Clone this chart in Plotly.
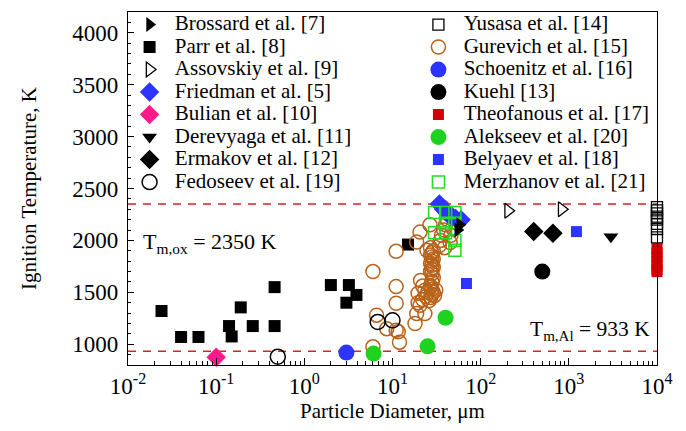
import plotly.graph_objects as go

# ---------------- data ----------------
brossard_d = [55, 58]
brossard_T = [2100, 2150]

parr_d = [0.024, 0.040, 0.063, 0.14, 0.15, 0.19, 0.26, 0.46, 0.46, 2.0, 3.2, 3.9, 3.0, 15]
parr_T = [1320, 1070, 1070, 1175, 1075, 1355, 1175, 1550, 1175, 1570, 1570, 1475, 1400, 1960]

assovskiy_d = [205, 830]
assovskiy_T = [2285, 2300]

friedman_d = [34, 38, 42, 47, 52, 60]
friedman_T = [2350, 2300, 2260, 2230, 2210, 2200]

bulian_d = [0.1]
bulian_T = [875]

derevyaga_d = [3000]
derevyaga_T = [2035]

ermakov_d = [400, 660]
ermakov_T = [2085, 2070]

fedoseev_d = [0.5, 6.8, 10]
fedoseev_T = [880, 1215, 1230]

yusasa_d = [1e4, 1e4, 1e4, 1e4, 1e4, 1e4, 1e4, 1e4]
yusasa_T = [2320, 2290, 2260, 2230, 2200, 2160, 2110, 2030]

gurevich_d = [6.0, 6.0, 6.6, 8.6, 11, 11, 11, 11, 12, 11.6, 18, 18.8, 19.5, 19.5,
              20.5, 23.3, 20.8, 23.3, 20.5, 18.8, 26.6, 24.6,
              27, 28, 29, 28, 27, 28, 29, 28, 27, 28, 29, 28, 27, 28, 29, 28, 27, 28, 29, 27,
              22, 24, 26, 25, 30, 27, 22, 31, 28,
              34, 35, 36, 38, 40, 42, 44, 37, 46, 45, 48, 39]
gurevich_T = [1700, 975, 1280, 1150, 1895, 1555, 1395, 1135, 1020, 1120, 1200, 1295, 1400, 1490,
              1375, 1295, 1615, 1520, 2080, 1985, 2150, 1905,
              1450, 1480, 1500, 1530, 1560, 1600, 1640, 1680, 1700, 1720, 1740, 1760, 1780, 1800,
              1820, 1840, 1860, 1880, 1900, 1930,
              1430, 1460, 1420, 1500, 1470, 1550, 1560, 1520, 1600,
              1950, 2000, 2050, 2100, 2150, 2200, 2250, 2320, 2050, 1980, 2120, 1930]

schoenitz_d = [3.0]
schoenitz_T = [920]

kuehl_d = [500]
kuehl_T = [1700]

theofanous_d = [1e4, 1e4, 1e4, 1e4, 1e4, 1e4, 1e4]
theofanous_T = [1920, 1880, 1840, 1800, 1760, 1720, 1700]

alekseev_d = [6.1, 25, 40]
alekseev_T = [910, 980, 1255]

belyaev_d = [69, 1220]
belyaev_T = [1585, 2085]

merzhanov_d = [30, 40, 51, 40, 51, 30, 40, 51, 51]
merzhanov_T = [2270, 2270, 2270, 2165, 2165, 2075, 2075, 2000, 1905]

T_ox = 2350
T_al = 933

x_tickvals = [1e-2, 1e-1, 1e0, 1e1, 1e2, 1e3, 1e4]
x_ticktext = ["10<sup>-2</sup>", "10<sup>-1</sup>", "10<sup>0</sup>", "10<sup>1</sup>",
              "10<sup>2</sup>", "10<sup>3</sup>", "10<sup>4</sup>"]

# ---------------- style ----------------
FONT = "Liberation Serif"
BLUE = "#2B35FF"
PINK = "#FF1A8C"
BROWN = "#B8621B"
GREEN = "#1ED21E"
RED = "#D40000"
LGREEN = "#22DD22"

def nm(s):
    return '<span style="font-size:21px">&nbsp;' + s + '</span>'

fig = go.Figure()

def add(d, T, name, legend, rank, symbol, size, color, line_color=None, line_width=0):
    fig.add_trace(go.Scatter(
        x=d, y=T, mode="markers", name=nm(name), legend=legend, legendrank=rank,
        cliponaxis=False,
        marker=dict(symbol=symbol, size=size, color=color,
                    line=dict(color=line_color if line_color else color, width=line_width)),
    ))

# drawing order (bottom to top)
add(parr_d, parr_T, "Parr et al. [8]", "legend", 2, "square", 12, "black")
add(bulian_d, bulian_T, "Bulian et al. [10]", "legend", 5, "diamond", 15, PINK)
add(gurevich_d, gurevich_T, "Gurevich et al. [15]", "legend2", 2, "circle-open", 14, BROWN, BROWN, 1.5)
add(fedoseev_d, fedoseev_T, "Fedoseev et al. [19]", "legend", 8, "circle-open", 15, "black", "black", 1.5)
add(friedman_d, friedman_T, "Friedman et al. [5]", "legend", 4, "diamond", 15, BLUE)
add(merzhanov_d, merzhanov_T, "Merzhanov et al. [21]", "legend2", 8, "square-open", 12, LGREEN, LGREEN, 1.5)
add(brossard_d, brossard_T, "Brossard et al. [7]", "legend", 1, "triangle-right", 13, "black")
add(assovskiy_d, assovskiy_T, "Assovskiy et al. [9]", "legend", 3, "triangle-right-open", 13, "black", "black", 1.3)
add(derevyaga_d, derevyaga_T, "Derevyaga et al. [11]", "legend", 6, "triangle-down", 13, "black")
add(ermakov_d, ermakov_T, "Ermakov et al. [12]", "legend", 7, "diamond", 15, "black")
add(theofanous_d, theofanous_T, "Theofanous et al. [17]", "legend2", 5, "square", 11, RED)
add(yusasa_d, yusasa_T, "Yusasa et al. [14]", "legend2", 1, "square-open", 11, "black", "black", 1.3)
add(schoenitz_d, schoenitz_T, "Schoenitz et al. [16]", "legend2", 3, "circle", 16, BLUE)
add(kuehl_d, kuehl_T, "Kuehl [13]", "legend2", 4, "circle", 16, "black")
add(alekseev_d, alekseev_T, "Alekseev et al. [20]", "legend2", 6, "circle", 16, GREEN)
add(belyaev_d, belyaev_T, "Belyaev et al. [18]", "legend2", 7, "square", 11, BLUE)

# reference lines
for yv in (T_ox, T_al):
    fig.add_shape(type="line", xref="paper", x0=0, x1=1, yref="y", y0=yv, y1=yv,
                  line=dict(color="#DD2020", width=1.5, dash="8px,7px"), layer="below")

fig.add_annotation(xref="paper", yref="y", x=0.025, y=1979, xanchor="left", yanchor="middle",
                   text="T<sub>m,ox</sub> = 2350 K", showarrow=False,
                   font=dict(family=FONT, size=22, color="black"))
fig.add_annotation(xref="paper", yref="y", x=0.757, y=1129, xanchor="left", yanchor="middle",
                   text="T<sub>m,Al</sub> = 933 K", showarrow=False,
                   font=dict(family=FONT, size=21.5, color="black"))

minor_x = [k * 10.0 ** e for e in range(-2, 4) for k in range(2, 10)]

# page body has an 8px margin: figure is sized/offset so the plot box lands at x 128-657, y 12-365
fig.update_layout(
    width=670, height=415,
    margin=dict(l=120, r=21, t=4, b=58, autoexpand=False),
    paper_bgcolor="white", plot_bgcolor="white",
    font=dict(family=FONT, size=20, color="black"),
    showlegend=True,
    legend=dict(x=0.003, y=1.0105, xanchor="left", yanchor="top",
                bgcolor="rgba(0,0,0,0)", borderwidth=0,
                font=dict(family=FONT, size=15), itemsizing="trace", tracegroupgap=0),
    legend2=dict(x=0.549, y=1.0105, xanchor="left", yanchor="top",
                 bgcolor="rgba(0,0,0,0)", borderwidth=0,
                 font=dict(family=FONT, size=15), itemsizing="trace", tracegroupgap=0),
    xaxis=dict(
        type="log", range=[-2, 4],
        tickmode="array", tickvals=x_tickvals, ticktext=x_ticktext,
        ticks="inside", ticklen=7, tickwidth=1, tickcolor="black",
        showline=True, linecolor="black", linewidth=1.3, mirror=True,
        showgrid=False, zeroline=False,
        tickfont=dict(family=FONT, size=23),
        minor=dict(tickmode="array", tickvals=minor_x, ticks="inside", ticklen=4,
                   tickcolor="black", showgrid=False),
        title=dict(text="Particle Diameter, μm", font=dict(family=FONT, size=21), standoff=6),
        automargin=False,
    ),
    yaxis=dict(
        range=[800, 4200],
        tickmode="linear", tick0=1000, dtick=500,
        ticks="inside", ticklen=6, tickwidth=1, tickcolor="black",
        showline=True, linecolor="black", linewidth=1.3, mirror=True,
        showgrid=False, zeroline=False,
        tickfont=dict(family=FONT, size=23),
        ticklabelstandoff=4,
        minor=dict(dtick=100, tick0=800, ticks="inside", ticklen=3, tickcolor="black", showgrid=False),
        title=dict(text="Ignition Temperature, K", font=dict(family=FONT, size=21), standoff=29),
        automargin=False,
    ),
)

fig.write_html("out.html")
